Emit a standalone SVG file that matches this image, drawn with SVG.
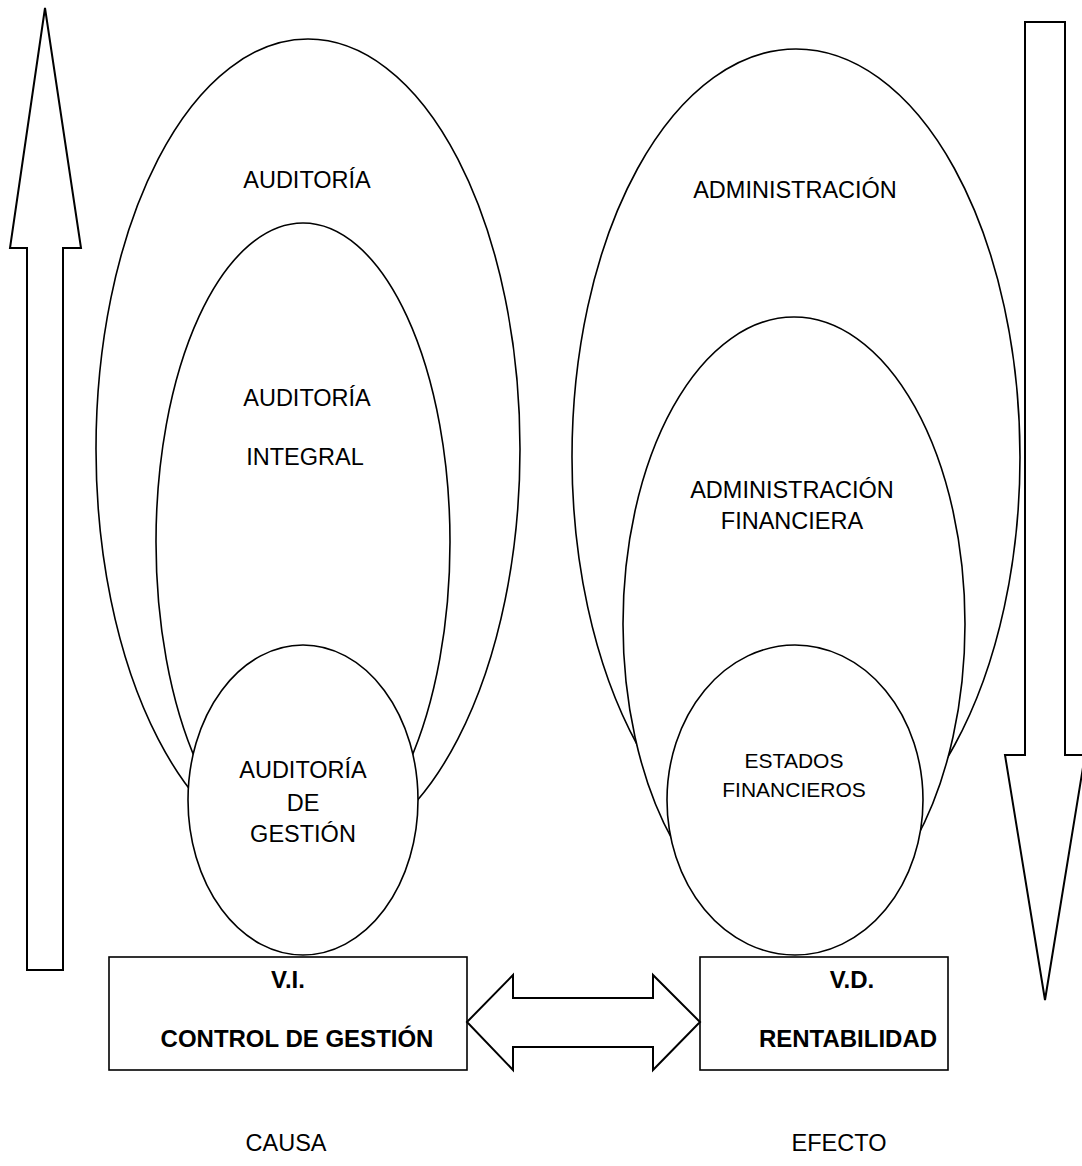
<svg xmlns="http://www.w3.org/2000/svg" width="1082" height="1166" viewBox="0 0 1082 1166">
  <style>
    .shape { fill: #ffffff; stroke: #000000; stroke-width: 1.6; }
    .arrow { fill: #ffffff; stroke: #000000; stroke-width: 2; stroke-linejoin: miter; }
    .lbl { font-family: "Liberation Sans", Arial, sans-serif; font-size: 23.5px; fill: #000000; text-anchor: middle; }
    .small { font-size: 21px; }
    .bold { font-weight: bold; font-size: 24px; }
  </style>
  <rect width="1082" height="1166" fill="#ffffff"/>

  <!-- side arrows: cause rises, effect descends -->
  <g id="arrow-up">
    <polygon class="arrow" points="45,8 81,248 63,248 63,970 27,970 27,248 10,248"/>
  </g>
  <g id="arrow-down">
    <polygon class="arrow" points="1025,22 1065,22 1065,755 1085,755 1045,1000 1005,755 1025,755"/>
  </g>

  <!-- left column: nested audit ellipses -->
  <g id="auditoria">
    <ellipse class="shape" cx="308" cy="449" rx="212" ry="410"/>
    <text class="lbl" x="307" y="188">AUDITORÍA</text>
  </g>
  <g id="auditoria-integral">
    <ellipse class="shape" cx="303" cy="542" rx="147" ry="319"/>
    <text class="lbl" x="307" y="406">AUDITORÍA</text>
    <text class="lbl" x="305" y="465">INTEGRAL</text>
  </g>
  <g id="auditoria-gestion">
    <ellipse class="shape" cx="303" cy="800" rx="115" ry="155"/>
    <text class="lbl" x="303" y="778">AUDITORÍA</text>
    <text class="lbl" x="303" y="811">DE</text>
    <text class="lbl" x="303" y="842">GESTIÓN</text>
  </g>

  <!-- right column: nested administration ellipses -->
  <g id="administracion">
    <ellipse class="shape" cx="796" cy="457" rx="224" ry="408"/>
    <text class="lbl" x="795" y="198">ADMINISTRACIÓN</text>
  </g>
  <g id="administracion-financiera">
    <ellipse class="shape" cx="794" cy="624" rx="171" ry="307"/>
    <text class="lbl" x="792" y="498">ADMINISTRACIÓN</text>
    <text class="lbl" x="792" y="529">FINANCIERA</text>
  </g>
  <g id="estados-financieros">
    <ellipse class="shape" cx="795" cy="800" rx="128" ry="155"/>
    <text class="lbl small" x="794" y="768">ESTADOS</text>
    <text class="lbl small" x="794" y="797">FINANCIEROS</text>
  </g>

  <!-- variable boxes -->
  <g id="vi-box">
    <rect class="shape" x="109" y="957" width="358" height="113"/>
    <text class="lbl bold" x="288" y="988">V.I.</text>
    <text class="lbl bold" x="297" y="1047">CONTROL DE GESTIÓN</text>
  </g>
  <g id="vd-box">
    <rect class="shape" x="700" y="957" width="248" height="113"/>
    <text class="lbl bold" x="852" y="988">V.D.</text>
    <text class="lbl bold" x="848" y="1047">RENTABILIDAD</text>
  </g>

  <!-- two-way link between the variables -->
  <g id="connectors">
    <polygon class="arrow" points="467,1022 513,975 513,998 653,998 653,975 700,1022 653,1070 653,1047 513,1047 513,1070"/>
  </g>

  <!-- captions -->
  <g id="captions">
    <text class="lbl" x="286" y="1151">CAUSA</text>
    <text class="lbl" x="839" y="1151">EFECTO</text>
  </g>
</svg>
